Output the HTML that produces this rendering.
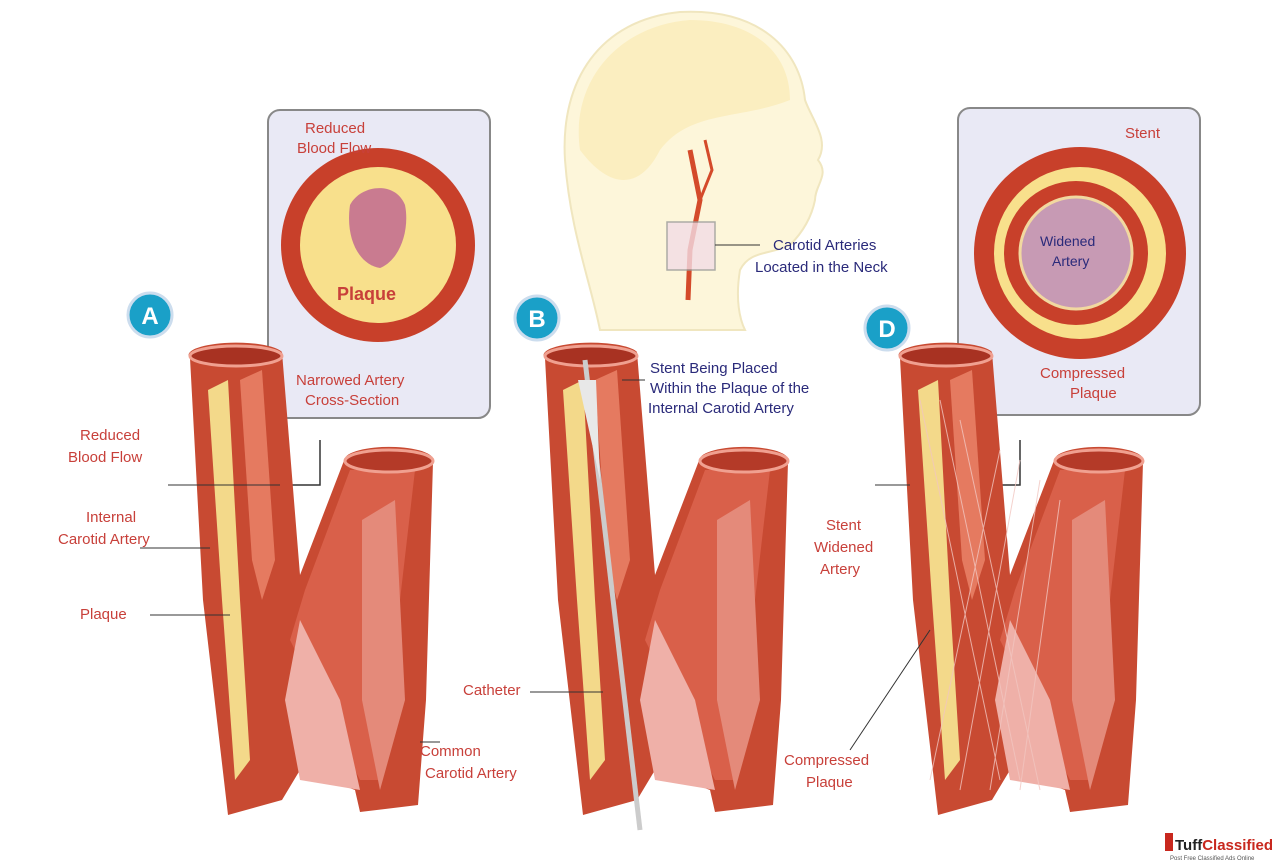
<!DOCTYPE html>
<html><head><meta charset="utf-8"><style>
html,body{margin:0;padding:0;background:#fff;}
svg{display:block}
text{font-family:"Liberation Sans",sans-serif;font-size:15px;}
.r{fill:#c8403a}.n{fill:#2a2a7a}
</style></head><body>
<svg width="1280" height="863" viewBox="0 0 1280 863" xmlns="http://www.w3.org/2000/svg">
<defs>
<g id="art">
  <path d="M190,358 L203,600 L228,815 L282,800 L300,770 L355,790 L360,812 L418,805 L426,700 L433,462 A44,13 0 0 0 345,458 L300,575 L282,352 A46,12 0 0 0 190,358 Z" fill="#c84a32"/>
  <path d="M350,470 L305,590 L290,640 L320,700 L360,780 L380,780 L400,600 L415,470 Z" fill="#d9604a"/>
  <path d="M300,620 L340,700 L360,790 L300,780 L285,700 Z" fill="#efb0a8"/>
  <path d="M362,520 L395,500 L405,700 L380,790 L362,700 Z" fill="#e48a7a"/>
  <path d="M208,390 L228,380 L240,600 L250,760 L235,780 L222,600 Z" fill="#f3d98a"/>
  <path d="M240,380 L262,370 L275,560 L262,600 L252,560 Z" fill="#e57a60"/>
  <ellipse cx="236" cy="356" rx="46" ry="10" fill="#a83222" stroke="#f0a090" stroke-width="3"/>
  <ellipse cx="389" cy="461" rx="44" ry="11" fill="#b43a28" stroke="#f0a090" stroke-width="3"/>
</g>
</defs>
<rect width="1280" height="863" fill="#fff"/>
<!-- head -->
<path d="M600,330 C590,280 570,230 565,160 C560,80 600,20 680,12 C760,8 800,50 805,100 C812,120 830,140 818,160 C830,175 815,185 815,200 C812,215 805,230 790,245 C770,255 750,250 740,270 C735,300 740,320 745,330 Z" fill="#fdf6da" stroke="#f0e6bf" stroke-width="2"/>
<path d="M580,150 C570,80 620,25 690,20 C750,20 790,50 790,100 C740,120 690,110 660,150 C640,190 610,190 580,150 Z" fill="#fbeec0"/>
<path d="M690,150 L700,200 L690,250 L688,300" stroke="#d44a2a" stroke-width="5" fill="none"/>
<path d="M700,200 L712,170 L705,140" stroke="#d44a2a" stroke-width="3" fill="none"/>
<rect x="667" y="222" width="48" height="48" fill="#f3dde6" stroke="#999" stroke-width="1.5" opacity="0.8"/>
<line x1="715" y1="245" x2="760" y2="245" stroke="#333"/>
<text x="773" y="250" class="n">Carotid Arteries</text>
<text x="755" y="272" class="n">Located in the Neck</text>
<!-- left box -->
<rect x="268" y="110" width="222" height="308" rx="12" fill="#e9e9f5" stroke="#888" stroke-width="2"/>
<circle cx="378" cy="245" r="97" fill="#c8402a"/>
<circle cx="378" cy="245" r="78" fill="#f8e08c"/>
<path d="M350,205 C360,185 395,180 405,205 C410,230 400,260 380,268 C360,265 345,240 350,205 Z" fill="#c97b90"/>
<text x="337" y="300" class="r" style="font-size:18px;font-weight:bold">Plaque</text>
<text x="305" y="133" class="r">Reduced</text>
<text x="297" y="153" class="r">Blood Flow</text>
<text x="296" y="385" class="r">Narrowed Artery</text>
<text x="305" y="405" class="r">Cross-Section</text>
<polyline points="320,440 320,485 285,485" fill="none" stroke="#333" stroke-width="1.5"/>
<!-- right box -->
<rect x="958" y="108" width="242" height="307" rx="12" fill="#e9e9f5" stroke="#888" stroke-width="2"/>
<circle cx="1080" cy="253" r="106" fill="#c8402a"/>
<circle cx="1080" cy="253" r="86" fill="#f8e08c"/>
<circle cx="1076" cy="253" r="72" fill="#c8402a"/>
<circle cx="1076" cy="253" r="56" fill="#c79ab4" stroke="#f1d8a0" stroke-width="3"/>
<text x="1040" y="246" class="n" style="font-size:14px">Widened</text>
<text x="1052" y="266" class="n" style="font-size:14px">Artery</text>
<text x="1125" y="138" class="r">Stent</text>
<text x="1040" y="378" class="r">Compressed</text>
<text x="1070" y="398" class="r">Plaque</text>
<polyline points="1020,440 1020,485 990,485" fill="none" stroke="#333" stroke-width="1.5"/>
<!-- badges -->
<g font-weight="bold" fill="#fff" text-anchor="middle">
<circle cx="150" cy="315" r="22" fill="#1aa0c8" stroke="#cde" stroke-width="3"/><text x="150" y="324" style="font-size:24px;font-weight:bold" fill="#fff">A</text>
<circle cx="537" cy="318" r="22" fill="#1aa0c8" stroke="#cde" stroke-width="3"/><text x="537" y="327" style="font-size:24px;font-weight:bold" fill="#fff">B</text>
<circle cx="887" cy="328" r="22" fill="#1aa0c8" stroke="#cde" stroke-width="3"/><text x="887" y="337" style="font-size:24px;font-weight:bold" fill="#fff">D</text>
</g>
<!-- arteries -->
<use href="#art"/>
<use href="#art" transform="translate(355,0)"/>
<use href="#art" transform="translate(710,0)"/>
<line x1="585" y1="360" x2="640" y2="830" stroke="#ccc" stroke-width="5"/>
<path d="M578,380 L600,480 L596,380 Z" fill="#e8e8e8"/>
<g stroke="#f2c6c0" stroke-width="1" opacity="0.8">
<path d="M920,400 L1000,780 M940,400 L1020,780 M960,420 L1040,790 M1000,450 L930,780 M1020,460 L960,790 M1040,480 L990,790 M1060,500 L1020,790"/>
</g>
<!-- left labels -->
<text x="80" y="440" class="r">Reduced</text>
<text x="68" y="462" class="r">Blood Flow</text>
<polyline points="168,485 280,485" stroke="#333"/>
<text x="86" y="522" class="r">Internal</text>
<text x="58" y="544" class="r">Carotid Artery</text>
<line x1="140" y1="548" x2="210" y2="548" stroke="#333"/>
<text x="80" y="619" class="r">Plaque</text>
<line x1="150" y1="615" x2="230" y2="615" stroke="#333"/>
<text x="420" y="756" class="r">Common</text>
<text x="425" y="778" class="r">Carotid Artery</text>
<line x1="420" y1="742" x2="440" y2="742" stroke="#333"/>
<!-- B labels -->
<text x="650" y="373" class="n">Stent Being Placed</text>
<text x="650" y="393" class="n">Within the Plaque of the</text>
<text x="648" y="413" class="n">Internal Carotid Artery</text>
<line x1="622" y1="380" x2="645" y2="380" stroke="#333"/>
<text x="463" y="695" class="r">Catheter</text>
<line x1="530" y1="692" x2="603" y2="692" stroke="#333"/>
<!-- D labels -->
<text x="826" y="530" class="r">Stent</text>
<text x="814" y="552" class="r">Widened</text>
<text x="820" y="574" class="r">Artery</text>
<line x1="875" y1="485" x2="910" y2="485" stroke="#333"/>
<text x="784" y="765" class="r">Compressed</text>
<text x="806" y="787" class="r">Plaque</text>
<line x1="850" y1="750" x2="930" y2="630" stroke="#333"/>
<!-- watermark -->
<rect x="1165" y="833" width="8" height="18" fill="#c8281e"/>
<text x="1175" y="850" style="font-size:15px;font-weight:bold" fill="#222">Tuff<tspan fill="#c8281e">Classified</tspan></text>
<text x="1170" y="860" style="font-size:6px" fill="#555">Post Free Classified Ads Online</text>
</svg>
</body></html>
